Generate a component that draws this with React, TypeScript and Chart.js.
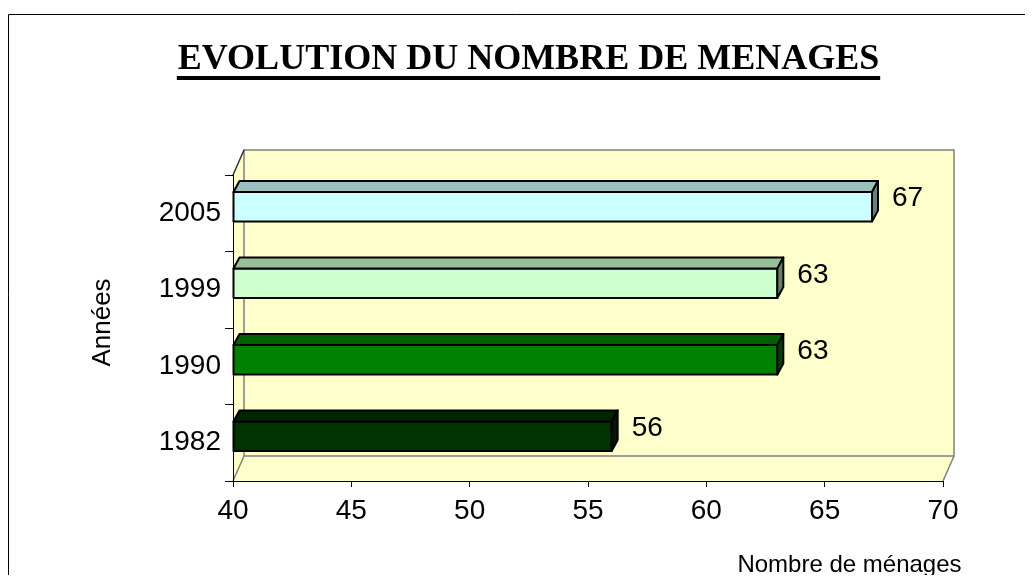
import React, { useEffect, useRef } from 'react';
import { Chart, registerables } from 'chart.js';

Chart.register(...registerables);

// ---- data ----
const years = ['1982', '1990', '1999', '2005'];
const households = [56, 63, 63, 67];
const frontColors = ['#003300', '#008000', '#CCFFCC', '#CCFFFF'];
const topColors = ['#002600', '#006000', '#99BF99', '#99BFBF'];
const sideColors = ['#001A00', '#004000', '#668066', '#668080'];
const xMin = 40;
const xMax = 70;
const xStep = 5;
const chartTitle = 'EVOLUTION DU NOMBRE DE MENAGES';
const yAxisTitle = 'Années';
const xAxisTitle = 'Nombre de ménages';

const SANS = '"Liberation Sans", Arial, sans-serif';
const SERIF = '"Liberation Serif", "Times New Roman", serif';

const WALL_DX = 11;
const WALL_DY = 25;
const BAR_DX = 6;
const BAR_DY = 11;

const excel3d = {
  id: 'excel3d',
  beforeDraw(chart: any) {
    const ctx = chart.ctx as CanvasRenderingContext2D;
    const { left: L, right: R, top: T, bottom: B } = chart.chartArea;
    ctx.save();
    // outer frame (left + top visible)
    ctx.strokeStyle = '#000';
    ctx.lineWidth = 1;
    ctx.beginPath();
    ctx.moveTo(0.5, chart.height);
    ctx.lineTo(0.5, 6.5);
    ctx.lineTo(chart.width, 6.5);
    ctx.stroke();

    // title
    ctx.fillStyle = '#000';
    ctx.font = `bold 36px ${SERIF}`;
    ctx.textAlign = 'center';
    ctx.textBaseline = 'alphabetic';
    const cx = 520.5;
    ctx.fillText(chartTitle, cx, 61);
    const tw = ctx.measureText(chartTitle).width;
    ctx.fillRect(cx - tw / 2 - 1, 68, tw + 2, 4);

    // walls
    ctx.fillStyle = '#FFFFCC';
    ctx.beginPath();
    ctx.moveTo(L, T);
    ctx.lineTo(L + WALL_DX, T - WALL_DY);
    ctx.lineTo(R + WALL_DX, T - WALL_DY);
    ctx.lineTo(R + WALL_DX, B - WALL_DY);
    ctx.lineTo(R, B);
    ctx.lineTo(L, B);
    ctx.closePath();
    ctx.fill();

    ctx.strokeStyle = '#808080';
    ctx.lineWidth = 1.5;
    ctx.beginPath();
    ctx.rect(L + WALL_DX, T - WALL_DY, R - L, B - T);
    ctx.moveTo(L, B);
    ctx.lineTo(L + WALL_DX, B - WALL_DY);
    ctx.moveTo(R, B);
    ctx.lineTo(R + WALL_DX, B - WALL_DY);
    ctx.stroke();
    ctx.strokeStyle = '#333';
    ctx.beginPath();
    ctx.moveTo(L, T);
    ctx.lineTo(L + WALL_DX, T - WALL_DY);
    ctx.stroke();

    // axis titles
    ctx.fillStyle = '#000';
    ctx.font = `26px ${SANS}`;
    ctx.textAlign = 'center';
    ctx.textBaseline = 'middle';
    ctx.save();
    ctx.translate(95, 314.5);
    ctx.rotate(-Math.PI / 2);
    ctx.fillText(yAxisTitle, 0, 0);
    ctx.restore();
    ctx.font = `24px ${SANS}`;
    ctx.textBaseline = 'alphabetic';
    ctx.fillText(xAxisTitle, 841.5, 564);
    ctx.restore();
  },
  afterDatasetsDraw(chart: any) {
    const ctx = chart.ctx as CanvasRenderingContext2D;
    const meta = chart.getDatasetMeta(0);
    ctx.save();
    ctx.lineJoin = 'round';
    meta.data.forEach((el: any, i: number) => {
      const { x, y, base, height } = el.getProps(['x', 'y', 'base', 'height'], true);
      const h = height;
      const top = y - h / 2 - 6.5;
      const bottom = top + h;
      const left = Math.min(x, base);
      const right = Math.max(x, base);
      ctx.strokeStyle = '#000';
      ctx.lineWidth = 2;
      // front
      ctx.fillStyle = frontColors[i];
      ctx.beginPath();
      ctx.rect(left, top, right - left, h);
      ctx.fill();
      ctx.stroke();
      // top
      ctx.fillStyle = topColors[i];
      ctx.beginPath();
      ctx.moveTo(left, top);
      ctx.lineTo(left + BAR_DX, top - BAR_DY);
      ctx.lineTo(right + BAR_DX, top - BAR_DY);
      ctx.lineTo(right, top);
      ctx.closePath();
      ctx.fill();
      ctx.stroke();
      // side
      ctx.fillStyle = sideColors[i];
      ctx.beginPath();
      ctx.moveTo(right, top);
      ctx.lineTo(right + BAR_DX, top - BAR_DY);
      ctx.lineTo(right + BAR_DX, bottom - BAR_DY);
      ctx.lineTo(right, bottom);
      ctx.closePath();
      ctx.fill();
      ctx.stroke();
      // value label
      ctx.fillStyle = '#000';
      ctx.font = `28px ${SANS}`;
      ctx.textAlign = 'left';
      ctx.textBaseline = 'middle';
      ctx.fillText(String(households[i]), right + 20, y - 14.5);
    });
    ctx.restore();
  },
};

export default function App() {
  const ref = useRef<HTMLCanvasElement | null>(null);
  useEffect(() => {
    if (!ref.current) return;
    const chart = new Chart(ref.current, {
      type: 'bar',
      data: {
        labels: years,
        datasets: [
          {
            data: households,
            base: xMin,
            backgroundColor: 'rgba(0,0,0,0)',
            borderWidth: 0,
            barThickness: 29.5,
          },
        ],
      },
      options: {
        indexAxis: 'y',
        animation: false,
        responsive: false,
        maintainAspectRatio: false,
        events: [],
        layout: { padding: { left: 0, top: 167, right: 82, bottom: 44 } },
        plugins: {
          legend: { display: false },
          tooltip: { enabled: false },
          title: { display: false },
        },
        scales: {
          x: {
            type: 'linear',
            min: xMin,
            max: xMax,
            ticks: {
              stepSize: xStep,
              color: '#000',
              font: { family: SANS, size: 28 },
              padding: 7,
              maxRotation: 0,
            },
            grid: { drawOnChartArea: false, drawTicks: true, tickLength: 6, color: '#000', lineWidth: 1 },
            border: { display: true, color: '#000', width: 1 },
            afterFit: (s: any) => {
              s.height = 50;
            },
          },
          y: {
            type: 'category',
            reverse: true,
            ticks: { color: '#000', font: { family: SANS, size: 28 }, padding: 4 },
            grid: { offset: true, drawOnChartArea: false, drawTicks: true, tickLength: 8, color: '#000', lineWidth: 1 },
            border: { display: true, color: '#000', width: 1 },
            afterFit: (s: any) => {
              s.width = 225;
            },
          },
        },
      },
      plugins: [excel3d],
    } as any);
    return () => chart.destroy();
  }, []);
  return (
    <div style={{ width: 1017, height: 567 }}>
      <canvas ref={ref} width={1017} height={567} style={{ display: 'block' }} />
    </div>
  );
}
